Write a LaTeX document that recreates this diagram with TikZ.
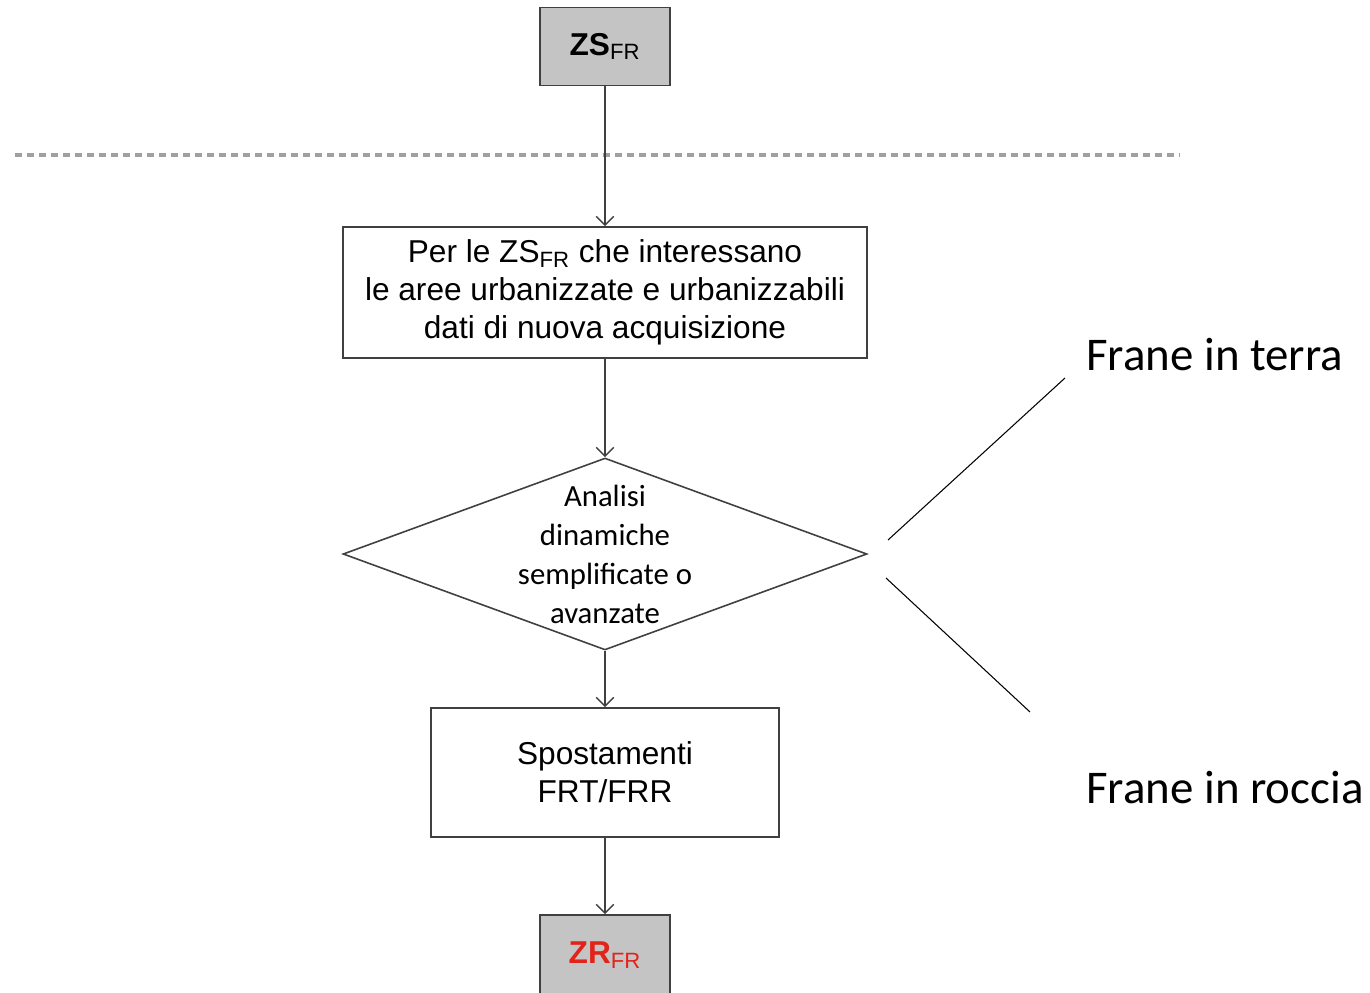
\documentclass[tikz,border=0pt]{standalone}
\usepackage{fontspec}
\setmainfont{Liberation Sans}
\newfontfamily\calibri{Carlito}
\usepackage{tikz}
\usetikzlibrary{arrows.meta,shapes.geometric}
\definecolor{boxgrey}{HTML}{C4C4C4}
\definecolor{linegrey}{HTML}{404040}
\definecolor{dashgrey}{HTML}{A0A0A0}
\definecolor{zrred}{HTML}{E2231A}

\begin{document}
\begin{tikzpicture}[x=0.02cm,y=-0.02cm,
    box/.style={draw=linegrey,line width=0.9pt,align=center,inner sep=0pt,
      font=\fontsize{18}{21.6}\selectfont},
    greybox/.style={box,fill=boxgrey,minimum width=2.6cm,minimum height=1.56cm},
    decision/.style={diamond,draw=linegrey,line width=0.9pt,inner sep=0pt,
      minimum width=10.48cm,minimum height=3.84cm},
    flow/.style={-{Straight Barb[length=5pt,width=10pt]},draw=linegrey,line width=0.8pt},
    side/.style={anchor=base west,inner sep=0pt,font=\calibri\fontsize{26.7}{32}\selectfont}]
      \useasboundingbox (0,0) rectangle (1370,993);

      \draw[dashgrey,line width=2pt,dash pattern=on 0.15cm off 0.09cm] (15,155) -- (1180,155);

      \node[greybox] (zs) at (605,46.5) {\textbf{ZS}\textsubscript{FR}};
      \node[box,minimum width=10.48cm,minimum height=2.62cm] (urb) at (605,292.5)
        {Per le ZS\textsubscript{FR} che interessano\\le aree urbanizzate e urbanizzabili\\dati di nuova acquisizione};
      \node[decision] (dec) at (605,554) {};
      \node[align=center,inner sep=0pt,font=\calibri\fontsize{17.5}{22.2}\selectfont] (dectext) at (dec)
        {Analisi\\dinamiche\\semplificate o\\avanzate};
      \node[box,minimum width=6.96cm,minimum height=2.58cm] (spo) at (605,772.5) {Spostamenti\\FRT/FRR};
      \node[greybox,minimum height=1.6cm] (zr) at (605,955) {\textcolor{zrred}{\textbf{ZR}\textsubscript{FR}}};

      \node[side] (terra) at (1086,371) {Frane in terra};
      \node[side] (roccia) at (1086,803) {Frane in roccia};
      \coordinate (t1) at (888,540);
      \coordinate (t2) at (1065,378);
      \coordinate (r1) at (886,578);
      \coordinate (r2) at (1030,712);

      \draw[flow] (zs) -- (urb);
      \draw[flow] (urb) -- (dec);
      \draw[flow] (dec) -- (spo);
      \draw[flow] (spo) -- (zr);

      \draw[line width=0.6pt] (t1) -- (t2);
      \draw[line width=0.6pt] (r1) -- (r2);
    \end{tikzpicture}
\end{document}
